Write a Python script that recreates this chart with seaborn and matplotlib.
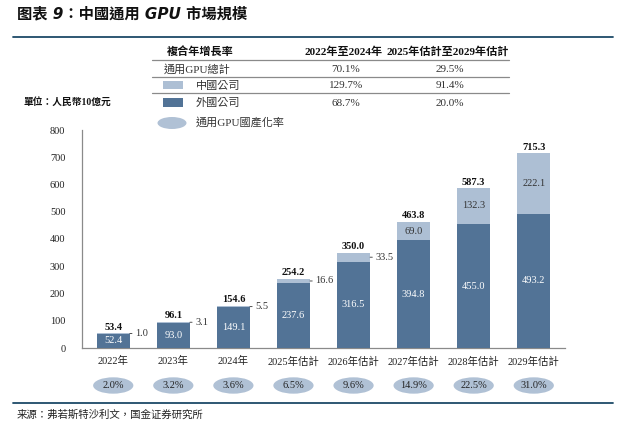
import numpy as np
import pandas as pd
import matplotlib
matplotlib.use("Agg")
import matplotlib.pyplot as plt
import matplotlib.transforms as mtransforms
from matplotlib.patches import Ellipse, Rectangle
from matplotlib.lines import Line2D
import seaborn as sns

# data
years = ["2022年", "2023年", "2024年", "2025年估計", "2026年估計",
         "2027年估計", "2028年估計", "2029年估計"]
foreign = [52.4, 93.0, 149.1, 237.6, 316.5, 394.8, 455.0, 493.2]
china = [1.0, 3.1, 5.5, 16.6, 33.5, 69.0, 132.3, 222.1]
localization = ["2.0%", "3.2%", "3.6%", "6.5%", "9.6%", "14.9%", "22.5%", "31.0%"]

cagr_rows = ["通用GPU總計", "中國公司", "外國公司"]
cagr_2224 = ["70.1%", "129.7%", "68.7%"]
cagr_2529 = ["29.5%", "91.4%", "20.0%"]

df = pd.DataFrame({"year": years, "foreign": foreign, "china": china})
df["total"] = (df["foreign"] + df["china"]).round(1)

dark = "#527396"
light = "#adbfd4"
oval = "#b0c1d5"
teal = "#1d4a68"
grey = "#8a8a8a"

sns.set_style("white")
plt.rcParams['font.family'] = ['Liberation Serif', 'Noto Sans CJK TC']
plt.rcParams['axes.unicode_minus'] = False

W, H = 623, 425
def fx(px):
    return px / W
def fy(py):
    return 1 - py / H

fig = plt.figure(figsize=(6.23, 4.25), dpi=100)
ax = fig.add_axes([fx(82), 77 / H, 483 / W, 218 / H])

sns.barplot(data=df, x="year", y="total", color=light, width=0.55,
            saturation=1, linewidth=0, ax=ax, zorder=2)
sns.barplot(data=df, x="year", y="foreign", color=dark, width=0.55,
            saturation=1, linewidth=0, ax=ax, zorder=3)

ax.set_xlim(-0.52, 7.52)
ax.set_ylim(0, 800)
ax.set_yticks(np.arange(0, 801, 100))
ax.set_xlabel("")
ax.set_ylabel("")
for s in ["top", "right"]:
    ax.spines[s].set_visible(False)
for s in ["left", "bottom"]:
    ax.spines[s].set_color(grey)
    ax.spines[s].set_linewidth(0.9)
ax.tick_params(axis="y", length=8, width=0.9, color=grey, pad=4,
               labelsize=7.5, labelcolor="#222222")
ax.tick_params(axis="x", length=0, pad=6, labelsize=7.5, labelcolor="#222222")

# value labels
for i, row in df.iterrows():
    ax.annotate(f"{row['total']:.1f}", xy=(i, row["total"]), xytext=(0, 1),
                textcoords="offset points", ha="center", va="bottom",
                fontsize=7.5, fontweight="bold", color="#111111")
    ax.text(i, row["foreign"] / 2, f"{row['foreign']:.1f}", ha="center",
            va="center", fontsize=7.5, color="white", zorder=4)
    mid = row["foreign"] + row["china"] / 2
    if row["china"] >= 60:
        ax.text(i, mid, f"{row['china']:.1f}", ha="center", va="center",
                fontsize=7.5, color="#333333", zorder=4)
    else:
        ax.annotate(f"{row['china']:.1f}", xy=(i + 0.275, mid), xytext=(4, 0),
                    textcoords="offset points", ha="left", va="center",
                    fontsize=7.5, color="#333333",
                    arrowprops=dict(arrowstyle="-", lw=0.6, color="#333333",
                                    shrinkA=0, shrinkB=0))

# localization rate ovals under the x labels
trans = mtransforms.blended_transform_factory(ax.transData, ax.transAxes)
for i, lab in enumerate(localization):
    ax.add_patch(Ellipse((i, -0.172), 0.67, 0.075, transform=trans,
                         facecolor=oval, edgecolor="none", clip_on=False))
    ax.text(i, -0.172, lab, transform=trans, ha="center", va="center",
            fontsize=7.5, color="#222222")

# title and frame lines
fig.text(fx(17), fy(14), "图表 9：中國通用 GPU 市場規模", ha="left", va="center",
         fontsize=11, fontweight="bold", fontstyle="italic", color="#111111",
         family=['DejaVu Sans', 'Noto Sans CJK TC'])
fig.add_artist(Line2D([fx(13), fx(613)], [fy(37), fy(37)], color=teal, lw=1.3))
fig.add_artist(Line2D([fx(13), fx(613)], [fy(403), fy(403)], color=teal, lw=1.3))
fig.text(fx(17), fy(415), "来源：弗若斯特沙利文，国金证券研究所", ha="left",
         va="center", fontsize=7.5, color="#222222")
fig.text(fx(23), fy(102), "單位：人民幣10億元", ha="left", va="center",
         fontsize=7, fontweight="bold", color="#111111")

# CAGR table
fig.text(fx(200), fy(52), "複合年增長率", ha="center", va="center",
         fontsize=8, fontweight="bold", color="#111111")
fig.text(fx(344), fy(52), "2022年至2024年", ha="center", va="center",
         fontsize=8, fontweight="bold", color="#111111")
fig.text(fx(448), fy(52), "2025年估計至2029年估計", ha="center", va="center",
         fontsize=8, fontweight="bold", color="#111111")
for py in [60, 77, 93]:
    fig.add_artist(Line2D([fx(152), fx(509)], [fy(py), fy(py)], color=grey, lw=0.9))

row_y = [69, 86, 103]
row_x = [164, 196, 196]
for name, v1, v2, py, px in zip(cagr_rows, cagr_2224, cagr_2529, row_y, row_x):
    fig.text(fx(px), fy(py), name, ha="left", va="center", fontsize=8, color="#333333")
    fig.text(fx(346), fy(py), v1, ha="center", va="center", fontsize=8, color="#333333")
    fig.text(fx(450), fy(py), v2, ha="center", va="center", fontsize=8, color="#333333")

fig.add_artist(Rectangle((fx(163), fy(89)), 20 / W, 8 / H, facecolor=light,
                         edgecolor="none", transform=fig.transFigure))
fig.add_artist(Rectangle((fx(163), fy(107)), 20 / W, 9 / H, facecolor=dark,
                         edgecolor="none", transform=fig.transFigure))
fig.add_artist(Ellipse((fx(172), fy(123)), 29 / W, 12 / H, facecolor=oval,
                       edgecolor="none", transform=fig.transFigure))
fig.text(fx(196), fy(122), "通用GPU國產化率", ha="left", va="center",
         fontsize=8, color="#333333")

fig.savefig("out.png", dpi=100)
